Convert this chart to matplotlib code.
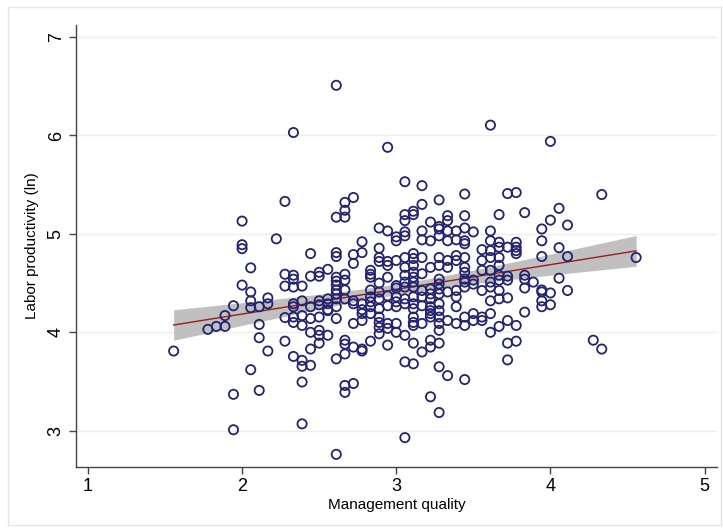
import numpy as np
import matplotlib
matplotlib.use("Agg")
from matplotlib import pyplot as plt
from matplotlib.patches import Rectangle

# firm-level observations: management score (x) and log labour productivity (y)
mgmt = (
    [1.556] * 1 + [1.778] * 1 + [1.833] * 1 + [1.889] * 2 + [1.944] * 3
    + [2.000] * 4 + [2.056] * 5 + [2.111] * 4 + [2.167] * 3 + [2.222] * 1
    + [2.278] * 5 + [2.333] * 9 + [2.389] * 8 + [2.444] * 7 + [2.500] * 8
    + [2.556] * 6 + [2.611] * 14 + [2.667] * 12 + [2.722] * 8 + [2.778] * 8
    + [2.833] * 9 + [2.889] * 12 + [2.944] * 10 + [3.000] * 10 + [3.056] * 15
    + [3.111] * 17 + [3.167] * 11 + [3.222] * 13 + [3.278] * 18 + [3.333] * 9
    + [3.389] * 8 + [3.444] * 14 + [3.500] * 5 + [3.556] * 6 + [3.611] * 11
    + [3.667] * 10 + [3.722] * 8 + [3.778] * 7 + [3.833] * 5 + [3.889] * 1
    + [3.944] * 7 + [4.000] * 4 + [4.056] * 3 + [4.111] * 3 + [4.278] * 1
    + [4.333] * 2 + [4.556] * 1
)
labprod = [
    3.81,
    4.03,
    4.06,
    4.06, 4.17,
    4.27, 3.37, 3.01,
    5.13, 4.89, 4.85, 4.48,
    4.655, 4.41, 4.32, 4.25, 3.62,
    4.26, 4.08, 3.945, 3.41,
    4.35, 4.29, 3.81,
    4.95,
    5.33, 4.59, 4.47, 4.15, 3.91,
    6.03, 4.58, 4.54, 4.46, 4.29, 4.26, 4.155, 4.10, 3.755,
    4.47, 4.32, 4.17, 4.07, 3.715, 3.655, 3.495, 3.07,
    4.80, 4.57, 4.26, 4.14, 4.00, 3.83, 3.665,
    4.61, 4.57, 4.32, 4.28, 4.155, 4.02, 3.97, 3.89,
    4.64, 4.34, 4.29, 4.23, 4.22, 3.97,
    6.51, 5.17, 4.81, 4.77, 4.56, 4.52, 4.48, 4.43, 4.39, 4.34, 4.26, 4.14, 3.73, 2.76,
    5.32, 5.24, 5.17, 4.59, 4.53, 4.43, 4.34, 3.92, 3.88, 3.78, 3.46, 3.39,
    5.37, 4.79, 4.70, 4.32, 4.29, 4.09, 3.85, 3.48,
    4.92, 4.81, 4.29, 4.23, 4.19, 4.12, 3.83, 3.81,
    4.63, 4.59, 4.56, 4.43, 4.36, 4.31, 4.26, 4.19, 3.91,
    5.06, 4.855, 4.76, 4.72, 4.50, 4.41, 4.34, 4.24, 4.155, 4.10, 4.05, 3.985,
    5.88, 5.03, 4.72, 4.68, 4.56, 4.37, 4.27, 4.09, 4.04, 3.87,
    4.97, 4.93, 4.73, 4.475, 4.45, 4.36, 4.31, 4.26, 4.09, 4.00,
    5.53, 5.196, 5.135, 5.02, 4.98, 4.76, 4.66, 4.58, 4.51, 4.46, 4.34, 4.29, 3.97, 3.70, 2.93,
    5.23, 5.196, 4.80, 4.75, 4.68, 4.61, 4.56, 4.51, 4.46, 4.36, 4.29, 4.24, 4.155, 4.10, 4.07, 3.89, 3.68,
    5.49, 5.30, 5.03, 4.94, 4.76, 4.595, 4.425, 4.36, 4.27, 4.09, 3.80,
    5.12, 4.93, 4.66, 4.44, 4.39, 4.34, 4.26, 4.22, 4.19, 4.155, 3.92, 3.85, 3.345,
    5.345, 5.075, 5.05, 4.98, 4.76, 4.68, 4.54, 4.49, 4.44, 4.39, 4.29, 4.22, 4.155, 4.09, 4.02, 3.89, 3.65, 3.185,
    5.185, 5.135, 5.03, 4.93, 4.73, 4.66, 4.41, 4.12, 3.56,
    5.03, 4.94, 4.78, 4.73, 4.425, 4.36, 4.26, 4.09,
    5.405, 5.185, 5.06, 4.93, 4.90, 4.76, 4.66, 4.61, 4.54, 4.51, 4.46, 4.155, 4.07, 3.52,
    5.02, 4.53, 4.49, 4.19, 4.12,
    4.84, 4.73, 4.63, 4.425, 4.155, 4.12,
    6.105, 5.03, 4.93, 4.83, 4.76, 4.63, 4.51, 4.46, 4.32, 4.19, 4.00,
    5.196, 4.915, 4.865, 4.76, 4.68, 4.58, 4.53, 4.425, 4.34, 4.06,
    5.41, 4.865, 4.57, 4.53, 4.35, 4.12, 3.89, 3.72,
    5.42, 4.915, 4.865, 4.83, 4.80, 4.07, 3.91,
    5.216, 4.58, 4.54, 4.45, 4.205,
    4.51,
    5.05, 4.93, 4.77, 4.43, 4.41, 4.32, 4.26,
    5.94, 5.14, 4.40, 4.28,
    5.26, 4.86, 4.55,
    5.09, 4.77, 4.425,
    3.92,
    5.40, 3.83,
    4.76,
]

x_ticks = [1, 2, 3, 4, 5]
y_ticks = [3, 4, 5, 6, 7]

x = np.asarray(mgmt)
y = np.asarray(labprod)

# OLS fit with 95% CI of the mean prediction
n = len(x)
b1, b0 = np.polyfit(x, y, 1)
resid = y - (b0 + b1 * x)
s = np.sqrt((resid ** 2).sum() / (n - 2))
sxx = ((x - x.mean()) ** 2).sum()
xg = np.linspace(x.min(), x.max(), 100)
yg = b0 + b1 * xg
se = s * np.sqrt(1.0 / n + (xg - x.mean()) ** 2 / sxx)
t = 1.967

plt.rcParams["font.family"] = ["Liberation Sans", "DejaVu Sans"]

fig = plt.figure(figsize=(7.23, 5.31), dpi=100)
ax = fig.add_axes([0.105, 0.121, 0.887, 0.832])

ax.fill_between(xg, yg - t * se, yg + t * se, color="#c0c0c0", lw=0, zorder=1)
ax.plot(xg, yg, color="#9b1c1c", lw=1.0, zorder=2)
ax.scatter(x, y, s=44, facecolors="none", edgecolors="#232370", linewidths=1.3, zorder=3)

ax.set_xlim(0.922, 5.082)
ax.set_ylim(2.634, 7.123)
ax.set_xticks(x_ticks)
ax.set_yticks(y_ticks)
ax.yaxis.grid(True, color="#eeeeee", lw=1.0)
ax.set_axisbelow(True)
for side in ("top", "right"):
    ax.spines[side].set_visible(False)
for side in ("left", "bottom"):
    ax.spines[side].set_color("#444444")
    ax.spines[side].set_linewidth(1.0)
ax.tick_params(length=5, width=1.0, color="#444444", labelsize=13, pad=3)
ax.tick_params(axis="y", labelrotation=90)
for lab in ax.get_yticklabels():
    lab.set_va("center")

ax.set_xlabel("Management quality", fontsize=11, labelpad=2)
ax.set_ylabel("Labor productivity (ln)", fontsize=11, labelpad=6)

# light outer frame
fig.patches.append(Rectangle((0.011, 0.012), 0.986, 0.975, transform=fig.transFigure,
                             fill=False, edgecolor="#e4e4e4", lw=1.0))

fig.savefig("out.png", dpi=100)
